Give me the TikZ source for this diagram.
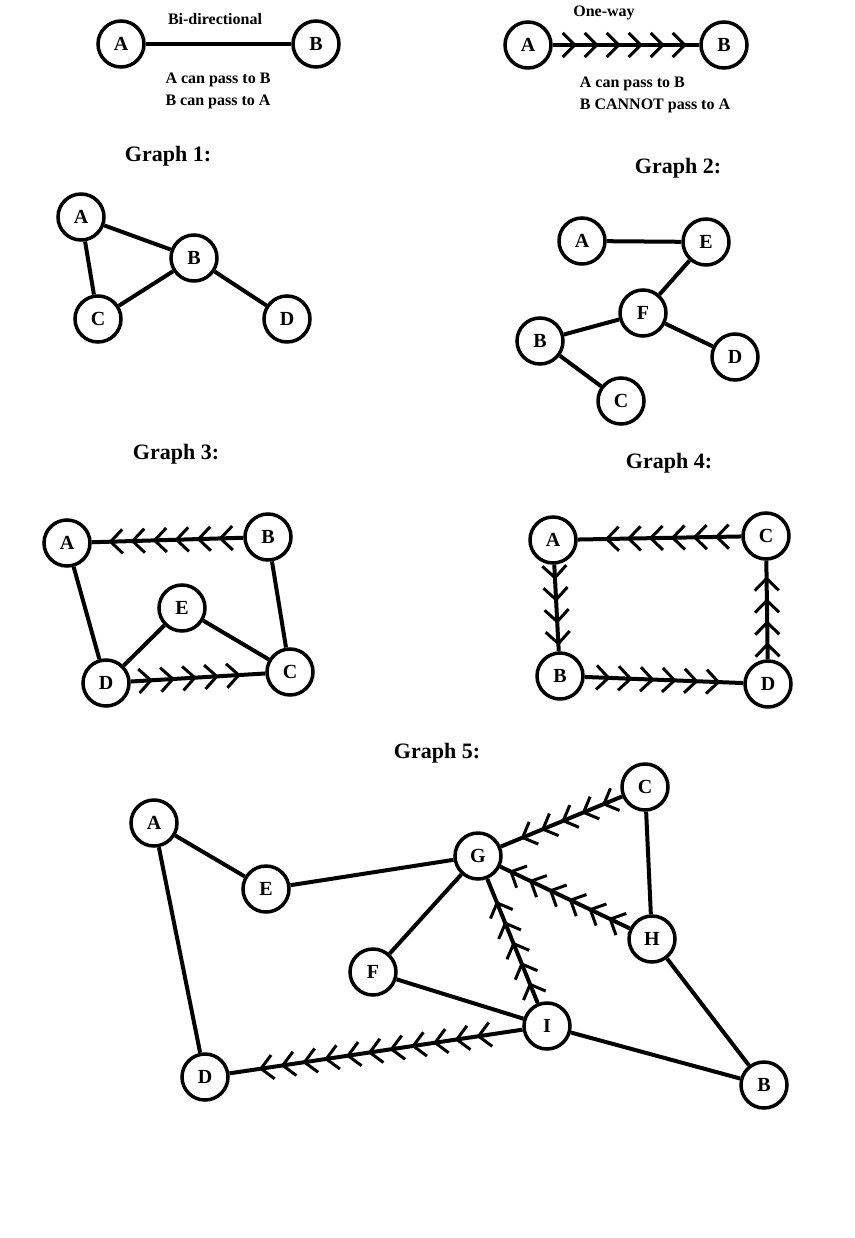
\documentclass[tikz,border=0pt]{standalone}
\usepackage{fontspec}
\setmainfont{Liberation Serif}
\usetikzlibrary{decorations.markings}
\begin{document}
\begin{tikzpicture}[x=1pt,y=-1pt,
 v/.style={circle,draw,line width=3.5pt,minimum size=46pt,inner sep=0pt,font=\bfseries\fontsize{20}{20}\selectfont,fill=white},
 e/.style={line width=4pt},
 ttl/.style={font=\bfseries\fontsize{22}{22}\selectfont},
 sm/.style={font=\bfseries\fontsize{16}{22}\selectfont},
 chev/.style={line width=4pt,postaction={decorate,decoration={markings,
   mark=between positions 0.15 and 0.95 step 22pt with {\draw[line width=3pt] (-12pt,12pt)--(0pt,0pt)--(-12pt,-12pt);}}}}]
\useasboundingbox (0,0) rectangle (854,1238);
% legend
\node[v] (la) at (121,44) {A}; \node[v] (lb) at (316,44) {B};
\draw[e] (la)--(lb);
\node[sm] at (215,19) {Bi-directional};
\node[sm,align=center] at (218,91) {A can pass to B\\B can pass to A};
\node[v] (ra) at (528,45) {A}; \node[v] (rb) at (724,45) {B};
\draw[chev] (ra)--(rb);
\node[sm] at (604,13) {One-way};
\node[sm,align=left] at (655,95) {A can pass to B\\B CANNOT pass to A};
% graph 1
\node[ttl] at (168,156) {Graph 1:};
\node[v] (a1) at (81,217) {A}; \node[v] (b1) at (194,258) {B};
\node[v] (c1) at (98,319) {C}; \node[v] (d1) at (287,319) {D};
\draw[e] (a1)--(b1) (a1)--(c1) (c1)--(b1) (b1)--(d1);
% graph 2
\node[ttl] at (678,168) {Graph 2:};
\node[v] (a2) at (582,241) {A}; \node[v] (e2) at (706,242) {E};
\node[v] (f2) at (643,313) {F}; \node[v] (b2) at (540,341) {B};
\node[v] (d2) at (735,357) {D}; \node[v] (c2) at (621,401) {C};
\draw[e] (a2)--(e2) (e2)--(f2) (f2)--(b2) (f2)--(d2) (b2)--(c2);
% graph 3
\node[ttl] at (176,454) {Graph 3:};
\node[v] (a3) at (67,543) {A}; \node[v] (b3) at (268,537) {B};
\node[v] (e3) at (182,608) {E}; \node[v] (d3) at (106,683) {D};
\node[v] (c3) at (290,672) {C};
\draw[chev] (b3)--(a3);
\draw[chev] (d3)--(c3);
\draw[e] (a3)--(d3) (b3)--(c3) (d3)--(e3) (e3)--(c3);
% graph 4
\node[ttl] at (669,463) {Graph 4:};
\node[v] (a4) at (553,540) {A}; \node[v] (c4) at (766,536) {C};
\node[v] (b4) at (560,676) {B}; \node[v] (d4) at (768,684) {D};
\draw[chev] (c4)--(a4);
\draw[chev] (a4)--(b4);
\draw[chev] (b4)--(d4);
\draw[chev] (d4)--(c4);
% graph 5
\node[ttl] at (437,753) {Graph 5:};
\node[v] (a5) at (154,823) {A}; \node[v] (e5) at (266,889) {E};
\node[v] (g5) at (478,856) {G}; \node[v] (c5) at (645,787) {C};
\node[v] (h5) at (652,939) {H}; \node[v] (f5) at (373,972) {F};
\node[v] (i5) at (547,1026) {I}; \node[v] (d5) at (205,1077) {D};
\node[v] (b5) at (764,1085) {B};
\draw[e] (a5)--(e5) (e5)--(g5) (a5)--(d5) (c5)--(h5) (g5)--(f5) (f5)--(i5) (i5)--(b5) (h5)--(b5);
\draw[chev] (c5)--(g5);
\draw[chev] (h5)--(g5);
\draw[chev] (i5)--(g5);
\draw[chev] (i5)--(d5);
\end{tikzpicture}
\end{document}
